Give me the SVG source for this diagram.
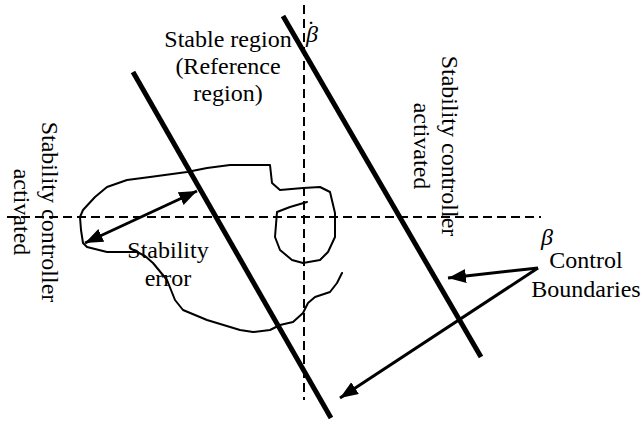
<svg xmlns="http://www.w3.org/2000/svg" width="641" height="423" viewBox="0 0 641 423">
<style>
.t{font-family:"Liberation Serif","Times New Roman",serif;font-size:24px;fill:#000}
.m{text-anchor:middle}
.g{font-family:"Liberation Serif","Times New Roman",serif;font-style:italic;font-size:24px;fill:#000}
.axis{stroke:#000;stroke-width:2;stroke-dasharray:9 5;fill:none}
.bound{stroke:#000;stroke-width:5;fill:none}
.arr{stroke:#000;stroke-width:3;fill:none}
.blob{stroke:#000;stroke-width:2;fill:none;stroke-linejoin:round;stroke-linecap:round}
</style>
<defs>
<marker id="ah" markerUnits="userSpaceOnUse" markerWidth="20" markerHeight="16" refX="18" refY="7" orient="auto-start-reverse">
<path d="M0,0 L18,7 L0,14 Z" fill="#000"/>
</marker>
</defs>
<rect width="641" height="423" fill="#fff"/>
<g id="axes">
<line class="axis" x1="7" y1="217" x2="541" y2="217"/>
<line class="axis" x1="304" y1="5" x2="304" y2="400"/>
</g>
<g id="blob">
<polyline class="blob" points="342,273 337,283 330,292 315,297 308,303 303,313 293,322 280,325 270,330 253,332 240,330 207,320 183,310 175,300 167,280 153,263 145,256 137,252 107,252 87,247 83,243 81,230 80,217 83,210 95,197 107,187 127,180 150,177 187,172 207,168 230,165 270,165 272,183 280,190 303,188 320,187 330,192 335,213 335,237 328,252 320,260 303,263 292,260 280,250 275,237 277,212 290,207 307,202"/>
</g>
<g id="boundaries">
<line class="bound" x1="133" y1="72" x2="331" y2="418"/>
<line class="bound" x1="283" y1="16" x2="481" y2="357"/>
</g>
<g id="connectors">
<line class="arr" x1="85" y1="243" x2="197" y2="191" marker-start="url(#ah)" marker-end="url(#ah)"/>
<line class="arr" x1="538" y1="268" x2="448" y2="278" marker-end="url(#ah)"/>
<line class="arr" x1="538" y1="268" x2="340" y2="398" marker-end="url(#ah)"/>
</g>
<g id="stable-region">
<text class="t m" x="228" y="47">Stable region</text>
<text class="t m" x="228" y="74">(Reference</text>
<text class="t m" x="228" y="101">region)</text>
</g>
<g id="beta-dot">
<text class="g" x="306" y="42">β<tspan x="307" y="37" style="font-style:normal">˙</tspan></text>
</g>
<g id="beta">
<text class="g" x="541" y="245">β</text>
</g>
<g id="left-label" transform="translate(42,212) rotate(90)">
<text class="t m" x="0" y="0">Stability controller</text>
<text class="t m" x="0" y="28">activated</text>
</g>
<g id="right-label" transform="translate(442,146) rotate(90)">
<text class="t m" x="0" y="0">Stability controller</text>
<text class="t m" x="0" y="28">activated</text>
</g>
<g id="stability-error">
<text class="t m" x="168" y="258">Stability</text>
<text class="t m" x="168" y="286">error</text>
</g>
<g id="control-boundaries">
<text class="t m" x="586" y="268">Control</text>
<text class="t m" x="586" y="297">Boundaries</text>
</g>
</svg>
